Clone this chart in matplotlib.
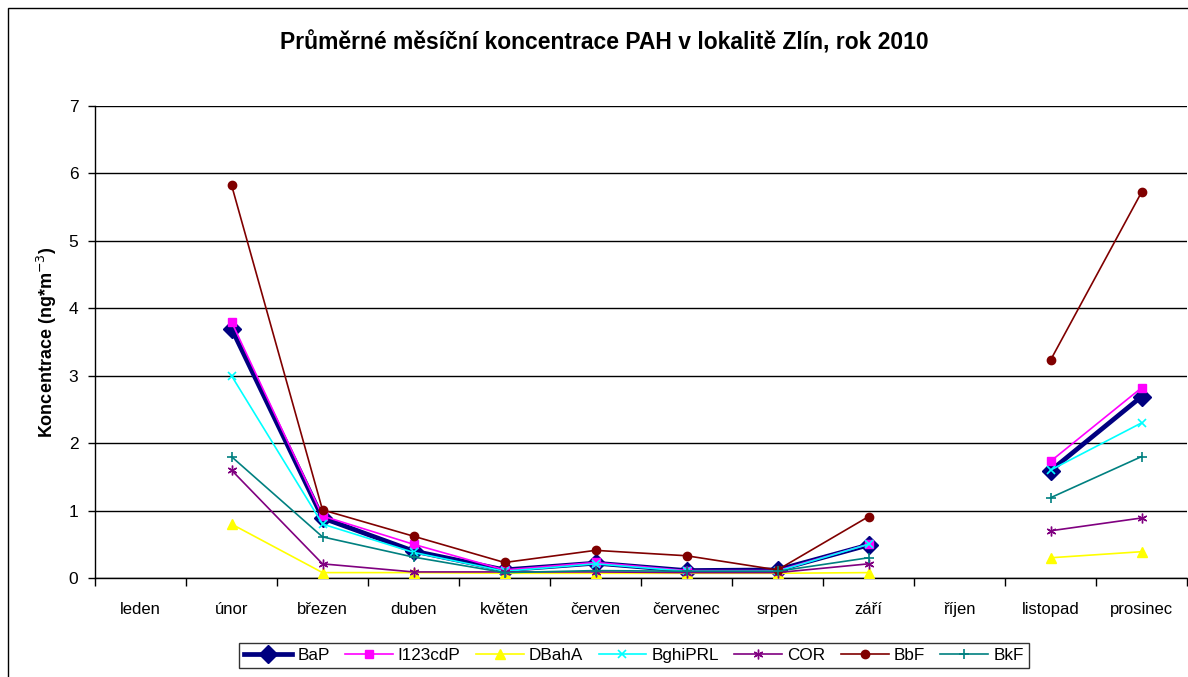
import numpy as np
import matplotlib
matplotlib.use("Agg")
import matplotlib.pyplot as plt
from matplotlib.patches import Rectangle

plt.rcParams['font.family'] = ['Liberation Sans', 'DejaVu Sans']

months = ["leden", "únor", "březen", "duben", "květen", "červen", "červenec",
          "srpen", "září", "říjen", "listopad", "prosinec"]
nan = np.nan
BaP     = [nan, 3.70, 0.89, 0.40, 0.12, 0.22, 0.11, 0.12, 0.49, nan, 1.59, 2.69]
I123cdP = [nan, 3.80, 0.92, 0.50, 0.12, 0.23, 0.11, 0.11, 0.50, nan, 1.73, 2.82]
DBahA   = [nan, 0.80, 0.08, 0.08, 0.07, 0.07, 0.07, 0.07, 0.08, nan, 0.30, 0.39]
BghiPRL = [nan, 3.00, 0.80, 0.38, 0.10, 0.21, 0.10, 0.10, 0.50, nan, 1.60, 2.30]
COR     = [nan, 1.60, 0.21, 0.09, 0.09, 0.09, 0.08, 0.08, 0.21, nan, 0.70, 0.89]
BbF     = [nan, 5.83, 1.01, 0.62, 0.23, 0.41, 0.33, 0.12, 0.91, nan, 3.23, 5.72]
BkF     = [nan, 1.80, 0.61, 0.31, 0.08, 0.11, 0.10, 0.10, 0.30, nan, 1.19, 1.80]

W, H = 1188, 677
fig = plt.figure(figsize=(W/100, H/100), dpi=100)
fig.patch.set_facecolor('white')

# outer chart border
fig.add_artist(Rectangle((8/W, -0.1), 1.2, 1 - 8/H + 0.1, transform=fig.transFigure,
                         fill=False, edgecolor='black', linewidth=1.0))

ax = fig.add_axes([95/W, 1 - 578/H, (1187 - 95)/W, (578 - 106)/H])
x = np.arange(len(months))

series = [
    ("BaP", BaP, dict(color='#000080', marker='D', markersize=9, linewidth=3.4)),
    ("I123cdP", I123cdP, dict(color='#FF00FF', marker='s', markersize=6, linewidth=1.2)),
    ("DBahA", DBahA, dict(color='#FFFF00', marker='^', markersize=7, linewidth=1.2)),
    ("BghiPRL", BghiPRL, dict(color='#00FFFF', marker='x', markersize=6, markeredgewidth=1.2, linewidth=1.2)),
    ("COR", COR, dict(color='#800080', marker=(6, 2, 0), markersize=7, markeredgewidth=1.0, linewidth=1.2)),
    ("BbF", BbF, dict(color='#800000', marker='o', markersize=6, linewidth=1.2)),
    ("BkF", BkF, dict(color='#008080', marker='+', markersize=7, markeredgewidth=1.2, linewidth=1.2)),
]
for name, vals, st in series:
    ax.plot(x, vals, label=name, zorder=3, **st)

ax.set_xlim(-0.5, len(months) - 0.5)
ax.set_ylim(0, 7)
ax.set_yticks(range(0, 8))
ax.yaxis.grid(True, color='black', linewidth=1.0, zorder=0)
ax.set_axisbelow(True)

ax.set_xticks(x)
ax.set_xticklabels(months, fontsize=12)
ax.set_xticks(np.arange(-0.5, len(months)), minor=True)
ax.tick_params(axis='x', which='major', length=0, pad=17)
ax.tick_params(axis='x', which='minor', length=6, direction='out', width=1)
ax.tick_params(axis='y', length=5, direction='out', width=1, labelsize=12.5, pad=7)

for s in ['top', 'right']:
    ax.spines[s].set_visible(False)
for s in ['left', 'bottom']:
    ax.spines[s].set_linewidth(1.0)

ax.set_ylabel("Koncentrace (ng*m$^{-3}$)", fontsize=13, fontweight='bold', labelpad=7)
fig.text(604/W, 1 - 43/H, "Průměrné měsíční koncentrace PAH v lokalitě Zlín, rok 2010",
         ha='center', va='center', fontsize=16.5, fontweight='bold')

leg = ax.legend(loc='upper center', bbox_to_anchor=(634/W, 1 - 643/H),
                bbox_transform=fig.transFigure, ncol=7, frameon=True, fancybox=False,
                edgecolor='black', fontsize=12.3, handlelength=2.8, handletextpad=0.3,
                columnspacing=0.9, borderpad=0.3, borderaxespad=0)
leg.get_frame().set_linewidth(1.0)

fig.savefig("out.png", dpi=100, facecolor='white')
